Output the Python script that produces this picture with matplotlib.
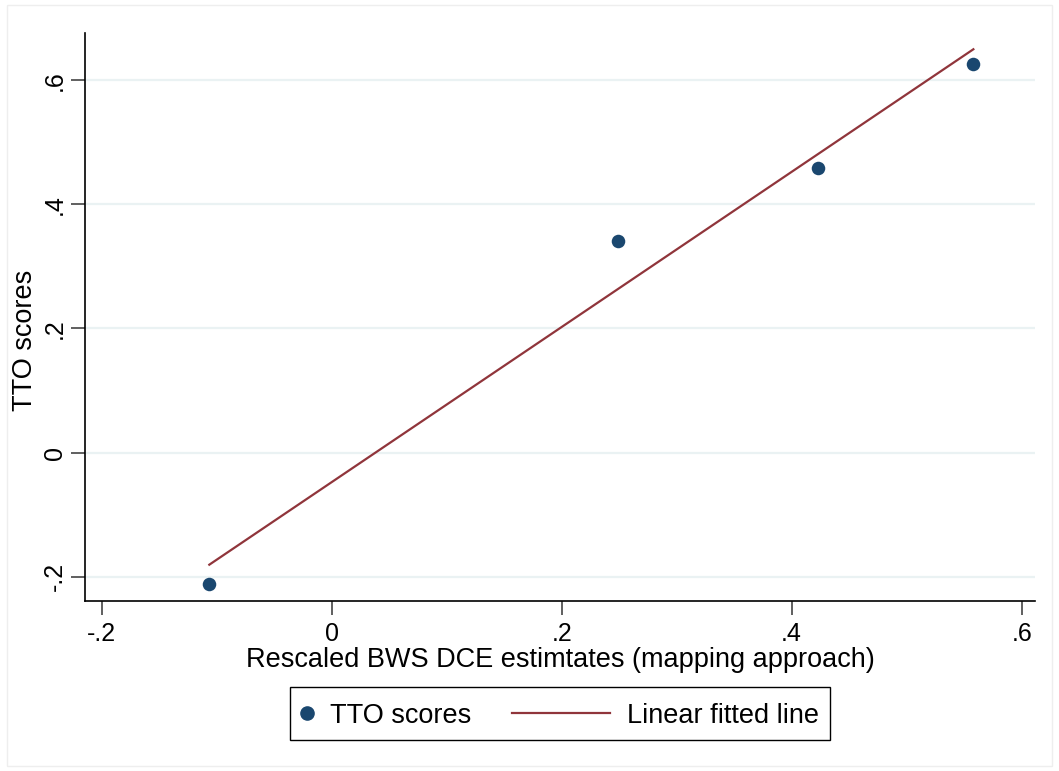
import matplotlib
matplotlib.use("Agg")
import matplotlib.pyplot as plt
import numpy as np
from matplotlib.lines import Line2D
from matplotlib.patches import Rectangle

plt.rcParams['font.family'] = ['Liberation Sans', 'DejaVu Sans']

# Data
bws = [-0.1064, 0.249, 0.423, 0.558]
tto = [-0.212, 0.341, 0.459, 0.626]
xticks = [-0.2, 0, 0.2, 0.4, 0.6]
xticklabels = ['-.2', '0', '.2', '.4', '.6']
yticks = [-0.2, 0, 0.2, 0.4, 0.6]
yticklabels = ['-.2', '0', '.2', '.4', '.6']
legend_labels = ['TTO scores', 'Linear fitted line']

NAVY = '#1a476f'
MAROON = '#90353b'

W, H = 1059, 771
fig = plt.figure(figsize=(W / 100, H / 100), dpi=100)
fig.patch.set_facecolor('white')


def fx(px):
    return px / W


def fy(py):
    return (H - py) / H


# faint outer border
fig.patches.append(Rectangle((fx(7), fy(766)), (W - 14) / W, (H - 10) / H,
                             transform=fig.transFigure, fill=False,
                             edgecolor='#eeeeee', linewidth=1))

ax = fig.add_axes([fx(85), fy(601), (1035 - 85) / W, (601 - 33) / H])
ax.set_xlim(-0.2145, 0.6116)
ax.set_ylim(-0.239, 0.676)

for sp in ['top', 'right']:
    ax.spines[sp].set_visible(False)
ax.spines['left'].set_linewidth(1.2)
ax.spines['bottom'].set_linewidth(1.2)

for yv in yticks:
    ax.axhline(yv, color='#eaf2f3', linewidth=1.6, zorder=0)

ax.scatter(bws, tto, s=95, color=NAVY, zorder=3, linewidths=0)
b, a = np.polyfit(bws, tto, 1)
xs = np.array([min(bws), max(bws)])
ax.plot(xs, a + b * xs, color=MAROON, linewidth=1.6, zorder=2)

ax.set_xticks(xticks)
ax.set_xticklabels(xticklabels, fontsize=18)
ax.set_yticks(yticks)
ax.set_yticklabels(yticklabels, fontsize=18, rotation=90, va='center')
ax.tick_params(axis='both', direction='out', length=10, width=1.2, color='#444444')
ax.tick_params(axis='x', pad=5)
ax.tick_params(axis='y', pad=3)

ax.set_xlabel('Rescaled BWS DCE estimtates (mapping approach)', fontsize=19.5, labelpad=1)
ax.set_ylabel('TTO scores', fontsize=19.5)
ax.yaxis.set_label_coords((38 - 85) / 950, (601 - 340) / 568)

# legend box (manual layout, Stata style)
fig.patches.append(Rectangle((fx(290), fy(740)), (830 - 290) / W, (740 - 687) / H,
                             transform=fig.transFigure, fill=False,
                             edgecolor='black', linewidth=1.0))
fig.add_artist(Line2D([fx(307)], [fy(713)], marker='o', linestyle='none',
                      color=NAVY, markersize=9.5, transform=fig.transFigure))
fig.text(fx(330), fy(723), legend_labels[0], fontsize=19.5, va='baseline', ha='left')
fig.add_artist(Line2D([fx(512), fx(610)], [fy(713), fy(713)], color=MAROON,
                      linewidth=1.6, transform=fig.transFigure))
fig.text(fx(627), fy(723), legend_labels[1], fontsize=19.5, va='baseline', ha='left')

fig.savefig('out.png', dpi=100, facecolor='white')
